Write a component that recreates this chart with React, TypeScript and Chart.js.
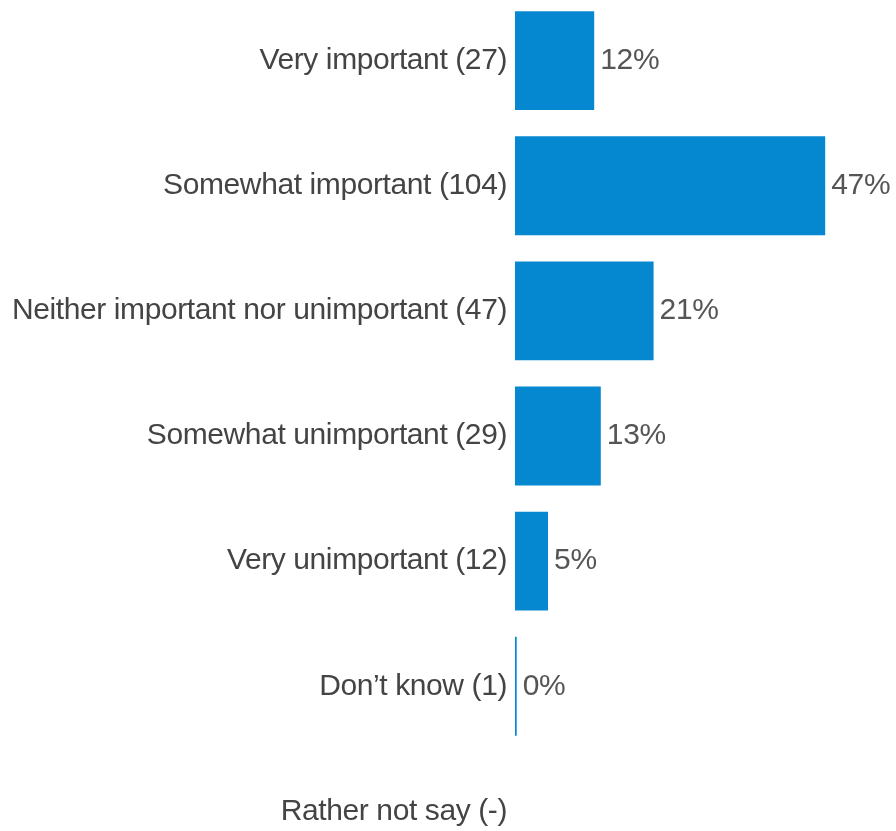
import React, { useEffect, useRef } from "react";
import { Chart, registerables } from "chart.js";

Chart.register(...registerables);

const categories = [
  "Very important (27)",
  "Somewhat important (104)",
  "Neither important nor unimportant (47)",
  "Somewhat unimportant (29)",
  "Very unimportant (12)",
  "Don’t know (1)",
  "Rather not say (-)",
];
const percents: (number | null)[] = [12, 47, 21, 13, 5, 0, null];

const BAR_COLOR = "#0688d1";
const TEXT_COLOR = "#444444";
const VALUE_COLOR = "#555555";
const FONT_FAMILY = '"Liberation Sans", Arial, Helvetica, sans-serif';

const spacingPlugin = {
  id: "tightSpacing",
  beforeDraw(chart: any) {
    (chart.ctx as any).letterSpacing = "-0.4px";
  },
};

const valueLabels = {
  id: "valueLabels",
  afterDatasetsDraw(chart: any) {
    const ctx = chart.ctx;
    const meta = chart.getDatasetMeta(0);
    ctx.save();
    (ctx as any).letterSpacing = "-0.3px";
    ctx.font = `30px ${FONT_FAMILY}`;
    ctx.fillStyle = VALUE_COLOR;
    ctx.textAlign = "left";
    ctx.textBaseline = "middle";
    meta.data.forEach((bar: any, i: number) => {
      const v = percents[i];
      if (v === null || v === undefined) return;
      const right = Math.max(bar.x, bar.base);
      ctx.fillText(`${v}%`, right + 6, bar.y);
    });
    ctx.restore();
  },
};

export default function App() {
  const ref = useRef<HTMLCanvasElement | null>(null);

  useEffect(() => {
    if (!ref.current) return;
    const chart = new Chart(ref.current, {
      type: "bar",
      data: {
        labels: categories,
        datasets: [
          {
            data: percents as any,
            backgroundColor: BAR_COLOR,
            borderWidth: 0,
            barPercentage: 0.79,
            categoryPercentage: 1,
            minBarLength: 1.7,
          },
        ],
      },
      options: {
        indexAxis: "y",
        animation: false,
        responsive: false,
        maintainAspectRatio: false,
        layout: { padding: { left: 0, right: 51, top: 0, bottom: 0 } },
        plugins: {
          legend: { display: false },
          tooltip: { enabled: false },
          title: { display: false },
        },
        scales: {
          x: {
            display: false,
            min: 0,
            max: 50,
          },
          y: {
            grid: { display: false, drawTicks: false },
            border: { display: false },
            ticks: {
              color: TEXT_COLOR,
              padding: 8,
              font: { family: FONT_FAMILY, size: 30 },
            },
            afterFit(scale: any) {
              scale.width = 515;
              scale.paddingTop = 0;
              scale.paddingBottom = 0;
            },
          },
        },
      },
      plugins: [spacingPlugin, valueLabels],
    });
    return () => chart.destroy();
  }, []);

  return (
    <div style={{ position: "fixed", left: 0, top: 0, right: 0, bottom: 0, overflow: "hidden", background: "#fff" }}>
      <div style={{ position: "absolute", left: 0, top: -2, width: 896, height: 876 }}>
        <canvas ref={ref} width={896} height={876} style={{ display: "block" }} />
      </div>
    </div>
  );
}
